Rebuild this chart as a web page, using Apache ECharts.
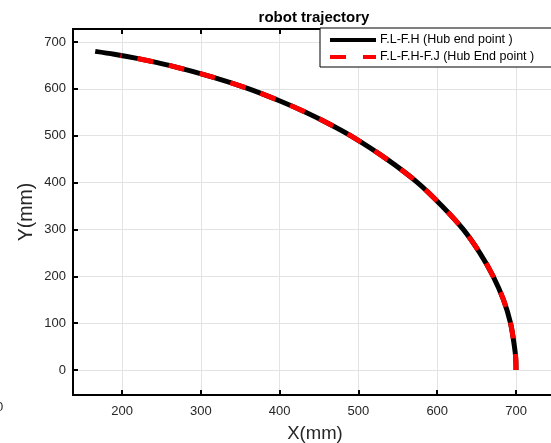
<!DOCTYPE html>
<html>
<head>
<meta charset="utf-8">
<script src="https://cdn.jsdelivr.net/npm/echarts@6/dist/echarts.min.js"></script>
<style>
html,body{margin:0;padding:0;background:#fff;overflow:hidden;width:551px;height:443px;}
#c{width:600px;height:443px;}
</style>
</head>
<body>
<div id="c"></div>
<script>
// Data
const blackX = [700, 699.6, 698, 693, 684, 671, 654, 633, 606, 575, 536, 490, 463, 433, 399, 361, 315, 260, 219, 190, 166];
const blackY = [0, 25, 50, 100, 150, 200, 250, 300, 350, 400, 450, 500, 525, 550, 575, 600, 625, 650, 665, 674, 680];
const redX = [700, 699.6, 698, 693, 684, 671, 654, 633, 606, 575, 536, 490, 463, 433, 399, 361, 315, 260, 219, 198];
const redY = [0, 25, 50, 100, 150, 200, 250, 300, 350, 400, 450, 500, 525, 550, 575, 600, 625, 650, 665, 671];
const xTicks = [200, 300, 400, 500, 600, 700];
const yTicks = [0, 100, 200, 300, 400, 500, 600, 700];
const seriesNames = ['F.L-F.H (Hub end point )', 'F.L-F.H-F.J (Hub End point )'];
const titleText = 'robot trajectory';
const xName = 'X(mm)';
const yName = 'Y(mm)';

const pairs = (xs, ys) => xs.map((x, i) => [x, ys[i]]);
const font = 'Liberation Sans, Arial, Helvetica, sans-serif';

const chart = echarts.init(document.getElementById('c'), null, {renderer: 'canvas'});
chart.setOption({
  animation: false,
  backgroundColor: '#fff',
  grid: {left: 73, top: 29, width: 490, height: 366, show: true, borderColor: '#000', borderWidth: 2, backgroundColor: 'transparent'},
  xAxis: [{
    type: 'value', min: 137.8, max: 759.6, position: 'bottom',
    axisLine: {show: true, onZero: false, lineStyle: {color: '#000', width: 2}},
    axisTick: {show: true, inside: true, length: 5, lineStyle: {color: '#000', width: 2}, customValues: xTicks},
    axisLabel: {show: true, customValues: xTicks, fontFamily: font, fontSize: 13, color: '#262626', margin: 10},
    splitLine: {show: true, lineStyle: {color: '#e3e3e3', width: 1}}
  }, {
    type: 'value', min: 137.8, max: 759.6, position: 'top',
    axisLine: {show: true, onZero: false, lineStyle: {color: '#000', width: 2}},
    axisTick: {show: true, inside: true, length: 5, lineStyle: {color: '#000', width: 2}, customValues: xTicks},
    axisLabel: {show: false},
    splitLine: {show: false}
  }],
  yAxis: {
    type: 'value', min: -53.4, max: 727.7,
    axisLine: {show: true, onZero: false, lineStyle: {color: '#000', width: 2}},
    axisTick: {show: true, inside: true, length: 5, lineStyle: {color: '#000', width: 2}, customValues: yTicks},
    axisLabel: {show: true, customValues: yTicks, fontFamily: font, fontSize: 13, color: '#262626', margin: 7},
    splitLine: {show: true, lineStyle: {color: '#e3e3e3', width: 1}}
  },
  series: [{
    name: seriesNames[0], type: 'line', xAxisIndex: 0, data: pairs(blackX, blackY),
    showSymbol: false, symbol: 'none', smooth: 0.3,
    lineStyle: {color: '#000', width: 5, cap: 'butt'}
  }, {
    name: seriesNames[1], type: 'line', xAxisIndex: 0, data: pairs(redX, redY),
    showSymbol: false, symbol: 'none', smooth: 0.3,
    lineStyle: {color: '#ff0000', width: 5, type: [16, 16], cap: 'butt'}
  }],
  graphic: [
    {type: 'text', x: 314, y: 18, style: {text: titleText, fontFamily: font, fontSize: 15, fontWeight: 'bold', fill: '#000', align: 'center', verticalAlign: 'middle'}, z: 101},
    {type: 'text', x: 315, y: 434, style: {text: xName, fontFamily: font, fontSize: 18.5, fill: '#262626', align: 'center', verticalAlign: 'middle'}, z: 101},
    {type: 'text', x: 27, y: 212, rotation: Math.PI / 2, style: {text: yName, fontFamily: font, fontSize: 19.5, fill: '#262626', align: 'center', verticalAlign: 'middle'}, z: 101},
    {type: 'rect', shape: {x: 320, y: 28, width: 260, height: 39}, style: {fill: '#fff', stroke: '#000', lineWidth: 1}, z: 100},
    {type: 'line', shape: {x1: 330, y1: 40, x2: 376, y2: 40}, style: {stroke: '#000', lineWidth: 4}, z: 101},
    {type: 'text', x: 380, y: 40, style: {text: seriesNames[0], fontFamily: font, fontSize: 12.5, fill: '#000', verticalAlign: 'middle'}, z: 101},
    {type: 'line', shape: {x1: 330, y1: 57, x2: 346, y2: 57}, style: {stroke: '#ff0000', lineWidth: 4}, z: 101},
    {type: 'line', shape: {x1: 363, y1: 57, x2: 376, y2: 57}, style: {stroke: '#ff0000', lineWidth: 4}, z: 101},
    {type: 'text', x: 380, y: 57, style: {text: seriesNames[1], fontFamily: font, fontSize: 12.5, fill: '#000', verticalAlign: 'middle'}, z: 101},
    {type: 'text', x: -4, y: 407, style: {text: '0', fontFamily: font, fontSize: 13, fill: '#262626', verticalAlign: 'middle'}, z: 101}
  ]
});
</script>
</body>
</html>
